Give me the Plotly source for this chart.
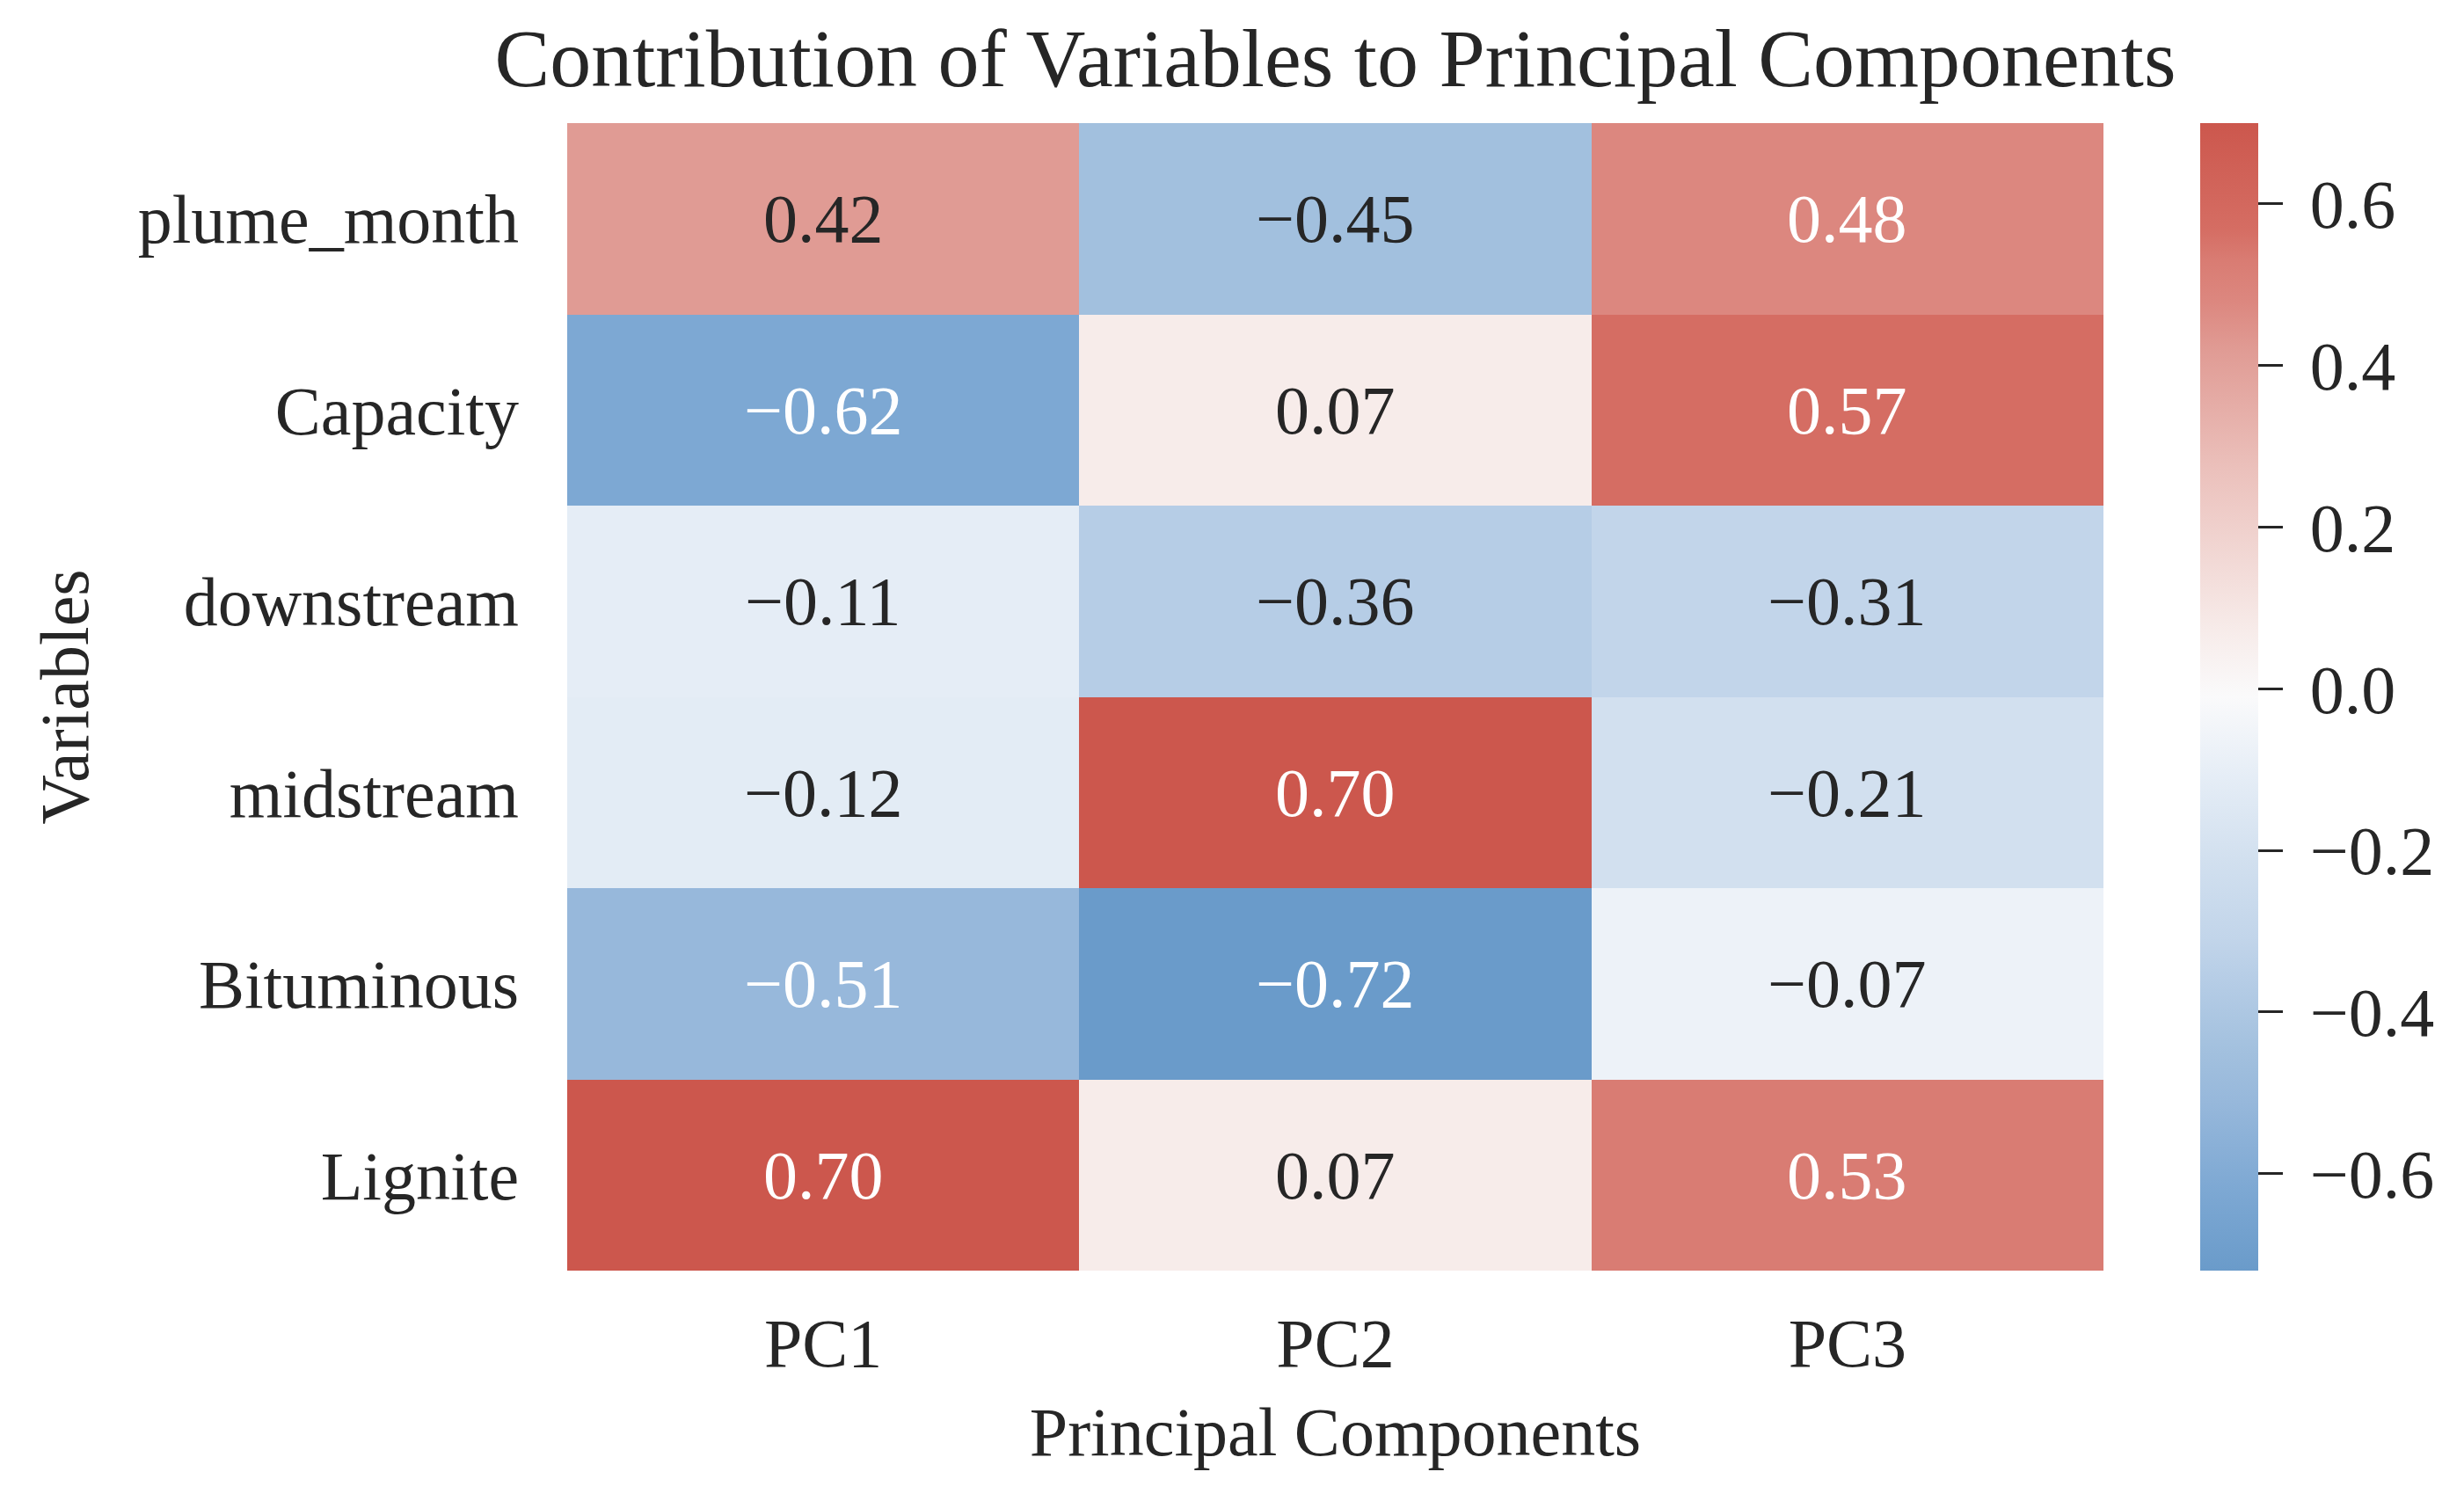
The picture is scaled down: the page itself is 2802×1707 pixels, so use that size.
import plotly.graph_objects as go

variables = ["plume_month", "Capacity", "downstream", "midstream", "Bituminous", "Lignite"]
components = ["PC1", "PC2", "PC3"]
pc1 = [0.42, -0.62, -0.11, -0.12, -0.51, 0.70]
pc2 = [-0.45, 0.07, -0.36, 0.70, -0.72, 0.07]
pc3 = [0.48, 0.57, -0.31, -0.21, -0.07, 0.53]
cbar_ticks = [-0.6, -0.4, -0.2, 0.0, 0.2, 0.4, 0.6]

z = [[a, b, c] for a, b, c in zip(pc1, pc2, pc3)]
zmin = min(min(r) for r in z)
zmax = max(max(r) for r in z)

def fmt(v, nd=2):
    return f"{v:.{nd}f}".replace("-", "\u2212")

colorscale = [
    [0.000, "#6A9BCA"],
    [0.070, "#7DA8D3"],
    [0.148, "#97B8DB"],
    [0.190, "#A2C0DE"],
    [0.254, "#B6CDE6"],
    [0.290, "#C2D5EA"],
    [0.360, "#D2E0EF"],
    [0.430, "#E5EDF6"],
    [0.500, "#FAFAFB"],
    [0.556, "#F7ECEA"],
    [0.700, "#EBC0BB"],
    [0.803, "#E09B94"],
    [0.845, "#DC877F"],
    [0.880, "#D97C73"],
    [0.908, "#D56D63"],
    [1.000, "#CC574D"],
]

FONT = "Liberation Serif"
DARK = "#262626"

L, R, T, B = 637, 418, 132, 270
W, H = 2802, 1707
plot_w = W - L - R

fig = go.Figure(go.Heatmap(
    z=z, x=components, y=variables,
    zmin=zmin, zmax=zmax, colorscale=colorscale,
    xgap=0, ygap=0, hoverinfo="skip",
    colorbar=dict(
        x=(2494 - L) / plot_w, xanchor="left", y=0.5, yanchor="middle",
        len=1, lenmode="fraction", thickness=66, thicknessmode="pixels",
        outlinewidth=0, xpad=0, ypad=0,
        tickvals=cbar_ticks, ticktext=["\u2009" + fmt(v, 1) for v in cbar_ticks],
        ticks="outside", ticklen=28, tickwidth=3, tickcolor=DARK,
        tickfont=dict(family=FONT, size=78, color=DARK),
    ),
))

annotations = []
for i, var in enumerate(variables):
    for j, comp in enumerate(components):
        v = z[i][j]
        annotations.append(dict(
            x=comp, y=var, xref="x", yref="y", text=fmt(v), showarrow=False,
            font=dict(family=FONT, size=78, color="white" if abs(v) > 0.46 else DARK),
        ))

fig.update_layout(
    width=W, height=H,
    margin=dict(l=L, r=R, t=T, b=B),
    paper_bgcolor="white", plot_bgcolor="white",
    font=dict(family=FONT, size=78, color=DARK),
    title=dict(text="Contribution of Variables to Principal Components",
               x=0.5, xref="paper", xanchor="center",
               y=1 - 57 / H, yref="container", yanchor="middle",
               font=dict(family=FONT, size=94, color=DARK)),
    annotations=annotations,
    xaxis=dict(showgrid=False, zeroline=False, ticks="", ticklabelstandoff=30,
               tickfont=dict(family=FONT, size=78, color=DARK),
               title=dict(text="Principal Components", standoff=30,
                          font=dict(family=FONT, size=78, color=DARK))),
    yaxis=dict(showgrid=False, zeroline=False, ticks="", autorange="reversed",
               ticklabelstandoff=54,
               tickfont=dict(family=FONT, size=78, color=DARK),
               title=dict(text="Variables", standoff=30,
                          font=dict(family=FONT, size=78, color=DARK))),
)

fig.write_html("out.html")
